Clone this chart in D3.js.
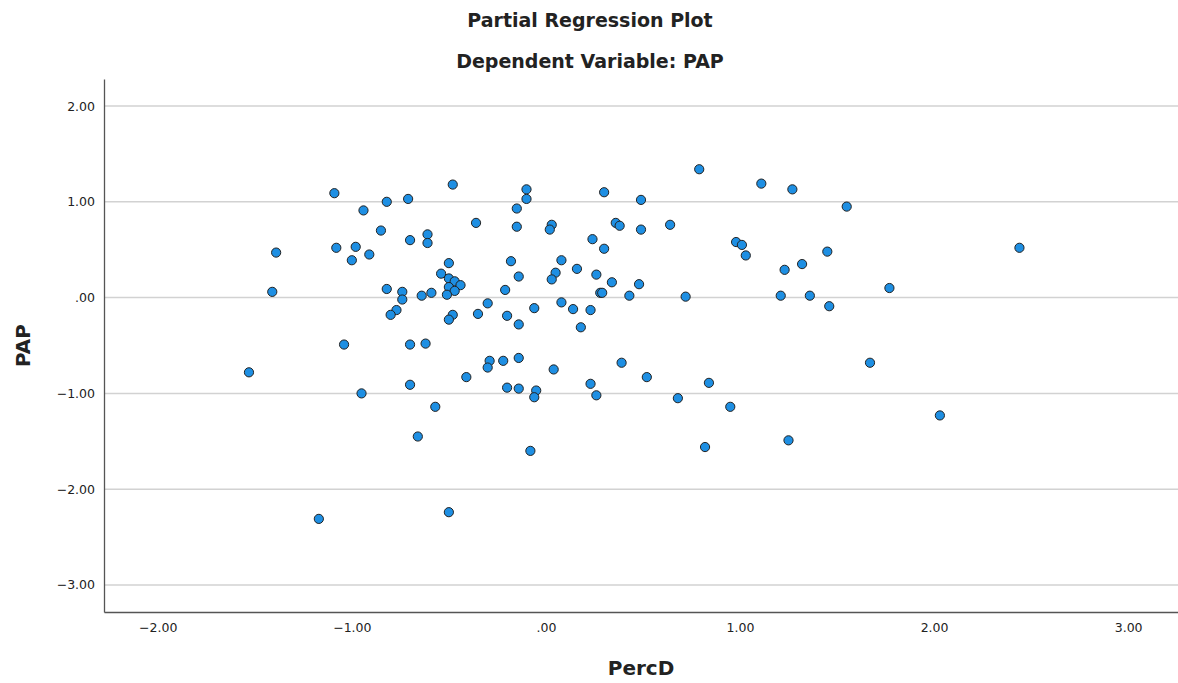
<!DOCTYPE html>
<meta charset="utf-8">
<style>
  body { margin: 0; background: #fff; }
  text { font-family: 'DejaVu Sans', 'Open Sans', sans-serif; fill: #222; }
  .title { font-weight: bold; font-size: 19px; }
  .axis-label { font-weight: bold; font-size: 20px; }
  .tick text { font-size: 12.5px; }
  .grid line { stroke: #d2d2d2; stroke-width: 1.5px; }
  .dot { fill: #1e8fe3; stroke: #222; stroke-width: 1px; }
</style>
<body>
<script src="https://cdn.jsdelivr.net/npm/d3@7"></script>
<script>

// residuals
var percD = [-1.09, -0.82, -0.71, -0.94, -0.85, -0.70, -0.61, -0.61, -1.39, -1.08,
  -0.98, -1.00, -0.91, -1.41, -0.82, -0.74, -0.74, -0.77, -0.80, -0.64,
  -0.48, -0.10, -0.10, -0.15, -0.36, -0.15, 0.03, 0.02, 0.24, -0.50,
  -0.18, 0.08, -0.54, -0.50, -0.47, -0.14, 0.16, 0.05, 0.03, 0.26,
  -0.50, -0.44, -0.47, -0.51, -0.59, -0.21, 0.28, -0.30, 0.08, 0.14,
  0.23, -0.06, -0.48, -0.50, -0.35, -0.20, -0.14, 0.18, 0.79, 1.11,
  0.30, 0.49, 0.36, 0.38, 0.49, 0.64, 0.30, 0.98, 1.01, 1.03,
  0.34, 0.48, 0.29, 0.43, 0.72, -1.04, -0.70, -0.62, -1.53, -0.70,
  -0.95, -0.66, -1.17, -0.29, -0.22, -0.14, -0.30, -0.41, 0.04, -0.20,
  -0.14, -0.05, -0.06, 0.23, 0.26, -0.57, -0.08, -0.50, 0.39, 0.52,
  0.84, 0.68, 0.95, 0.82, 1.27, 1.55, 2.44, 1.45, 1.32, 1.23,
  1.21, 1.36, 1.46, 1.77, 1.67, 2.03, 1.25];

var pap = [1.09, 1.00, 1.03, 0.91, 0.70, 0.60, 0.66, 0.57, 0.47, 0.52,
  0.53, 0.39, 0.45, 0.06, 0.09, 0.06, -0.02, -0.13, -0.18, 0.02,
  1.18, 1.13, 1.03, 0.93, 0.78, 0.74, 0.76, 0.71, 0.61, 0.36,
  0.38, 0.39, 0.25, 0.20, 0.17, 0.22, 0.30, 0.26, 0.19, 0.24,
  0.11, 0.13, 0.07, 0.03, 0.05, 0.08, 0.05, -0.06, -0.05, -0.12,
  -0.13, -0.11, -0.18, -0.23, -0.17, -0.19, -0.28, -0.31, 1.34, 1.19,
  1.10, 1.02, 0.78, 0.75, 0.71, 0.76, 0.51, 0.58, 0.55, 0.44,
  0.16, 0.14, 0.05, 0.02, 0.01, -0.49, -0.49, -0.48, -0.78, -0.91,
  -1.00, -1.45, -2.31, -0.66, -0.66, -0.63, -0.73, -0.83, -0.75, -0.94,
  -0.95, -0.97, -1.04, -0.90, -1.02, -1.14, -1.60, -2.24, -0.68, -0.83,
  -0.89, -1.05, -1.14, -1.56, 1.13, 0.95, 0.52, 0.48, 0.35, 0.29,
  0.02, 0.02, -0.09, 0.10, -0.68, -1.23, -1.49];

var xTicks = [-2, -1, 0, 1, 2, 3];
var yTicks = [2, 1, 0, -1, -2, -3];

var W = 1178, H = 683;
var margin = {top: 79, right: 0, bottom: 71, left: 104};

var x = d3.scaleLinear()
    .domain([-2.277, 3.257])
    .range([margin.left, W - margin.right]);
var y = d3.scaleLinear()
    .domain([-3.282, 2.282])
    .range([H - margin.bottom, margin.top]);

// SPSS style: ".00", "-1.00"
var fmt = function(d) {
  return d3.format(".2f")(d).replace(/^(−?)0\./, "$1.");
};

var svg = d3.select("body").append("svg")
    .attr("width", W)
    .attr("height", H);

// gridlines
svg.append("g")
    .attr("class", "grid")
    .selectAll("line")
    .data(yTicks)
  .enter().append("line")
    .attr("x1", margin.left)
    .attr("x2", W - margin.right)
    .attr("y1", function(d) { return y(d); })
    .attr("y2", function(d) { return y(d); });

// y axis
svg.append("g")
    .attr("transform", "translate(" + margin.left + ",0)")
    .call(d3.axisLeft(y).tickValues(yTicks).tickSize(0).tickPadding(9).tickFormat(fmt))
    .call(function(g) { g.select(".domain").attr("stroke", "#555").attr("stroke-width", 1.3); });

// x axis
svg.append("g")
    .attr("transform", "translate(0," + (H - margin.bottom) + ")")
    .call(d3.axisBottom(x).tickValues(xTicks).tickSize(0).tickPadding(11).tickFormat(fmt))
    .call(function(g) { g.select(".domain").attr("stroke", "#555").attr("stroke-width", 1.3); });

svg.selectAll(".tick text").attr("fill", "#222");

// points
svg.selectAll(".dot")
    .data(percD)
  .enter().append("circle")
    .attr("class", "dot")
    .attr("cx", function(d) { return x(d); })
    .attr("cy", function(d, i) { return y(pap[i]); })
    .attr("r", 4.6);

// titles
svg.append("text")
    .attr("class", "title")
    .attr("x", 590).attr("y", 27)
    .attr("text-anchor", "middle")
    .text("Partial Regression Plot");
svg.append("text")
    .attr("class", "title")
    .attr("x", 590).attr("y", 68)
    .attr("text-anchor", "middle")
    .text("Dependent Variable: PAP");

svg.append("text")
    .attr("class", "axis-label")
    .attr("x", (margin.left + W - margin.right) / 2)
    .attr("y", 675)
    .attr("text-anchor", "middle")
    .text("PercD");

svg.append("text")
    .attr("class", "axis-label")
    .attr("transform", "translate(30," + ((margin.top + H - margin.bottom) / 2) + ") rotate(-90)")
    .attr("text-anchor", "middle")
    .text("PAP");

</script>
</body>
